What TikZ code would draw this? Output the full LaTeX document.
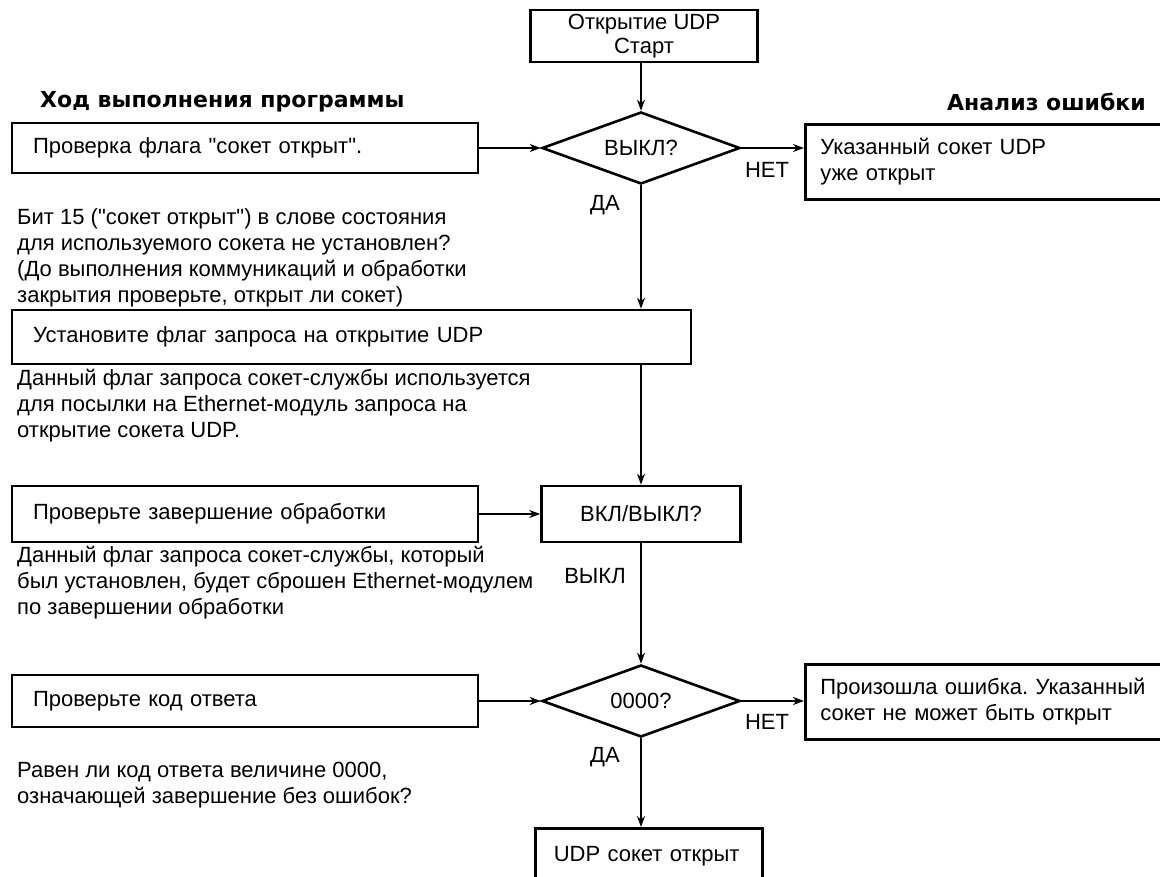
\documentclass[tikz,border=0pt]{standalone}
\usepackage{fontspec}
\newfontfamily\mf{Liberation Sans}
\newfontfamily\headfont{DejaVu Sans}
\usetikzlibrary{arrows.meta,shapes.geometric}
\begin{document}
\frenchspacing
\begin{tikzpicture}[x=1pt,y=-1pt,
  every node/.style={font=\fontsize{22}{26}\mf},
  box/.style={draw, line width=2.6pt, rectangle, inner ysep=0pt},
  dia/.style={draw, line width=2.6pt, diamond, aspect=2.75, inner sep=0pt, minimum width=198pt, minimum height=72pt},
  arr/.style={line width=2.6pt, -{Stealth[length=11pt,width=8pt]}},
  txt/.style={anchor=base west, align=left, inner sep=0pt},
  lbl/.style={inner sep=0pt},
  head/.style={inner sep=0pt, font=\fontsize{22}{26}\headfont\bfseries}]
\useasboundingbox (0,0) rectangle (1160,877);
\fill[white] (0,0) rectangle (1160,877);

% top start box
\node[box, minimum width=227pt, minimum height=52pt, align=center, font=\fontsize{22}{24}\mf] (start) at (644,36) {Открытие UDP\\Старт};

% headings
\node[head, anchor=west] (h1) at (40,102) {Ход выполнения программы};
\node[head, anchor=east] (h2) at (1146,102) {Анализ ошибки};

% row 1
\node[box, minimum width=466pt, minimum height=50pt, text width=424pt, inner xsep=21pt, align=left] (b1) at (245,148) {Проверка флага "сокет открыт".};
\node[dia] (d1) at (641,148) {ВЫКЛ?};
\node[box, anchor=north west, minimum width=400pt, minimum height=75pt, text width=370pt, inner xsep=15pt, align=left] (e1) at (804,123) {Указанный сокет UDP\\уже открыт};
\node[lbl] (n1) at (767,170) {НЕТ};
\node[lbl] (y1) at (605,205) {ДА};

\node[txt] (p1) at (17,303) {Бит 15 ("сокет открыт") в слове состояния\\для используемого сокета не установлен?\\(До выполнения коммуникаций и обработки\\закрытия проверьте, открыт ли сокет)};

% row 2
\node[box, minimum width=679pt, minimum height=54pt, text width=637pt, inner xsep=21pt, align=left] (b2) at (351.5,337) {Установите флаг запроса на открытие UDP};

\node[txt] (p2) at (17,438) {Данный флаг запроса сокет-службы используется\\для посылки на Ethernet-модуль запроса на\\открытие сокета UDP.};

% row 3
\node[box, minimum width=466pt, minimum height=56pt, text width=424pt, inner xsep=21pt, align=left] (b3) at (245,514) {Проверьте завершение обработки};
\node[box, minimum width=199pt, minimum height=56pt, align=center] (vk) at (641,514) {ВКЛ/ВЫКЛ?};
\node[lbl] (off) at (595,576) {ВЫКЛ};

\node[txt] (p3) at (17,614) {Данный флаг запроса сокет-службы, который\\был установлен, будет сброшен Ethernet-модулем\\по завершении обработки};

% row 4
\node[box, minimum width=466pt, minimum height=52pt, text width=424pt, inner xsep=21pt, align=left] (b4) at (245,701) {Проверьте код ответа};
\node[dia] (d2) at (641,701) {0000?};
\node[box, anchor=north west, minimum width=400pt, minimum height=75pt, text width=370pt, inner xsep=15pt, align=left] (e2) at (804,663) {Произошла ошибка. Указанный\\сокет не может быть открыт};
\node[lbl] (n2) at (767,722) {НЕТ};
\node[lbl] (y2) at (605,757) {ДА};

\node[txt] (p4) at (17,803) {Равен ли код ответа величине 0000,\\означающей завершение без ошибок?};

% final
\node[box, anchor=north west, minimum width=227pt, minimum height=56pt, text width=190pt, inner xsep=18.5pt, align=left] (fin) at (534,827) {UDP сокет открыт};

% connectors
\draw[arr] (start.south -| d1.north) -- (d1.north);
\draw[arr] (b1.east) -- (d1.west);
\draw[arr] (d1.east) -- (d1.east -| e1.west);
\draw[arr] (d1.south) -- (d1.south |- b2.north);
\draw[arr] (b2.south -| vk.north) -- (vk.north);
\draw[arr] (b3.east) -- (vk.west);
\draw[arr] (vk.south) -- (vk.south |- d2.north);
\draw[arr] (b4.east) -- (d2.west);
\draw[arr] (d2.east) -- (d2.east -| e2.west);
\draw[arr] (d2.south) -- (d2.south |- fin.north);
\end{tikzpicture}
\end{document}
